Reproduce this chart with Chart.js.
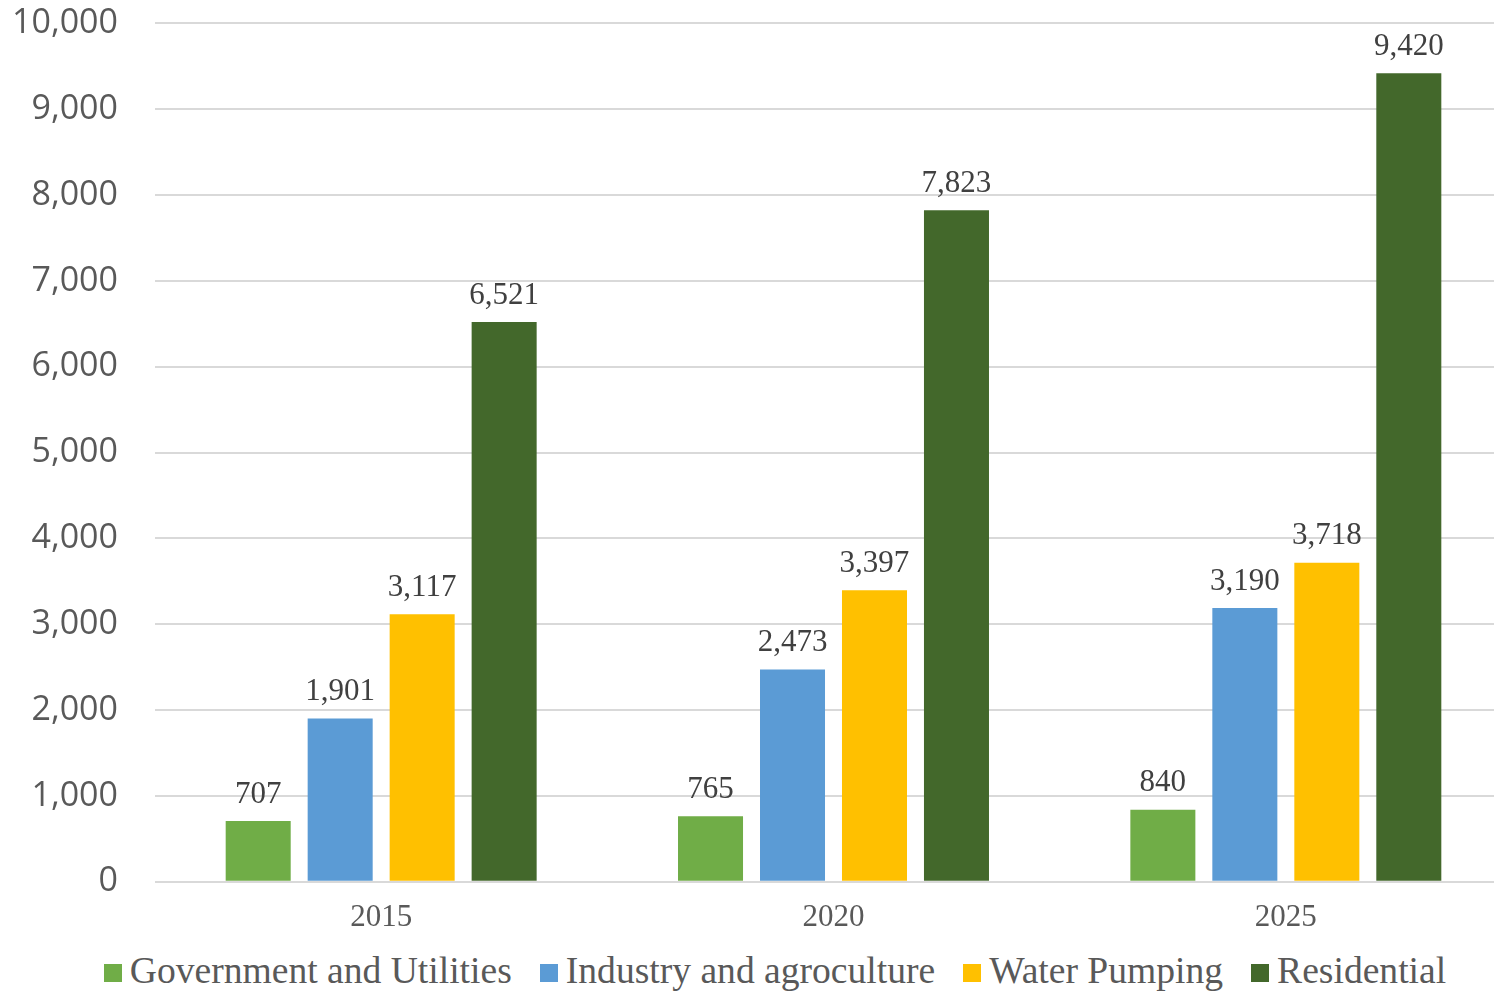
<!DOCTYPE html>
<html>
<head>
<meta charset="utf-8">
<script src="https://cdn.jsdelivr.net/npm/chart.js@4.4.0/dist/chart.umd.min.js"></script>
<style>
  html, body { margin: 0; padding: 0; background: #fff; overflow: hidden; }
  #wrap { position: absolute; left: -37px; top: -34px; width: 1549px; height: 979px; }
  #legend {
    position: absolute; left: 0; top: 948px; width: 1494px; height: 45px; box-sizing: border-box; padding-left: 56px;
    display: flex; justify-content: center; align-items: center;
    font-family: "Liberation Serif", "Times New Roman", serif; font-size: 37.6px; color: #595959;
  }
  #legend .item { display: flex; align-items: center; margin: 0 14px; white-space: nowrap; }
  #legend .box { width: 18px; height: 18px; margin-right: 8px; margin-top: 4px; }
</style>
</head>
<body>
<div id="wrap"><canvas id="canvas-1"></canvas></div>
<div id="legend"></div>
<script>
const years = ['2015', '2020', '2025'];
const government = [707, 765, 840];
const industry = [1901, 2473, 3190];
const pumping = [3117, 3397, 3718];
const residential = [6521, 7823, 9420];
const yTicks = [0, 1000, 2000, 3000, 4000, 5000, 6000, 7000, 8000, 9000, 10000];

const serif = '"Liberation Serif", "Times New Roman", serif';
const sans = '"Open Sans", "Noto Sans", sans-serif';

// value above each bar
const barLabels = {
    id: 'barLabels',
    afterDatasetsDraw(chart) {
        const ctx = chart.ctx;
        ctx.save();
        ctx.font = '31px ' + serif;
        ctx.fillStyle = '#404040';
        ctx.textAlign = 'center';
        ctx.textBaseline = 'bottom';
        chart.data.datasets.forEach((ds, i) => {
            chart.getDatasetMeta(i).data.forEach((bar, j) => {
                ctx.fillText(ds.data[j].toLocaleString('en-US'), bar.x, bar.y - 11);
            });
        });
        ctx.restore();
    }
};

const ctx = document.getElementById('canvas-1').getContext('2d');
const chart = new Chart(ctx, {
    type: 'bar',
    data: {
        labels: years,
        datasets: [
            { label: 'Government and Utilities', data: government, backgroundColor: '#70AD47' },
            { label: 'Industry and agroculture', data: industry, backgroundColor: '#5B9BD5' },
            { label: 'Water Pumping', data: pumping, backgroundColor: '#FFC000' },
            { label: 'Residential', data: residential, backgroundColor: '#43682B' }
        ]
    },
    options: {
        responsive: true,
        maintainAspectRatio: false,
        animation: false,
        categoryPercentage: 0.725,
        barPercentage: 0.793,
        layout: { padding: { top: 0, right: 0, left: 12, bottom: 0 } },
        plugins: {
            tooltip: { enabled: false },
            legend: { display: false }
        },
        scales: {
            x: {
                grid: { display: false },
                border: { display: false },
                ticks: { font: { family: serif, size: 31 }, color: '#595959', padding: 9 }
            },
            y: {
                min: 0,
                max: 10000,
                afterBuildTicks: (axis) => { axis.ticks = yTicks.map(v => ({ value: v })); },
                grid: { color: '#D9D9D9', lineWidth: 2, drawTicks: false },
                border: { display: false },
                ticks: {
                    font: { family: sans, size: 34 },
                    color: '#595959',
                    padding: 37,
                    callback: v => v.toLocaleString('en-US')
                }
            }
        }
    },
    plugins: [barLabels]
});

// legend built from the datasets
const legend = document.getElementById('legend');
chart.data.datasets.forEach(ds => {
    const item = document.createElement('div');
    item.className = 'item';
    const box = document.createElement('span');
    box.className = 'box';
    box.style.background = ds.backgroundColor;
    const txt = document.createElement('span');
    txt.textContent = ds.label;
    item.appendChild(box);
    item.appendChild(txt);
    legend.appendChild(item);
});
</script>
</body>
</html>
